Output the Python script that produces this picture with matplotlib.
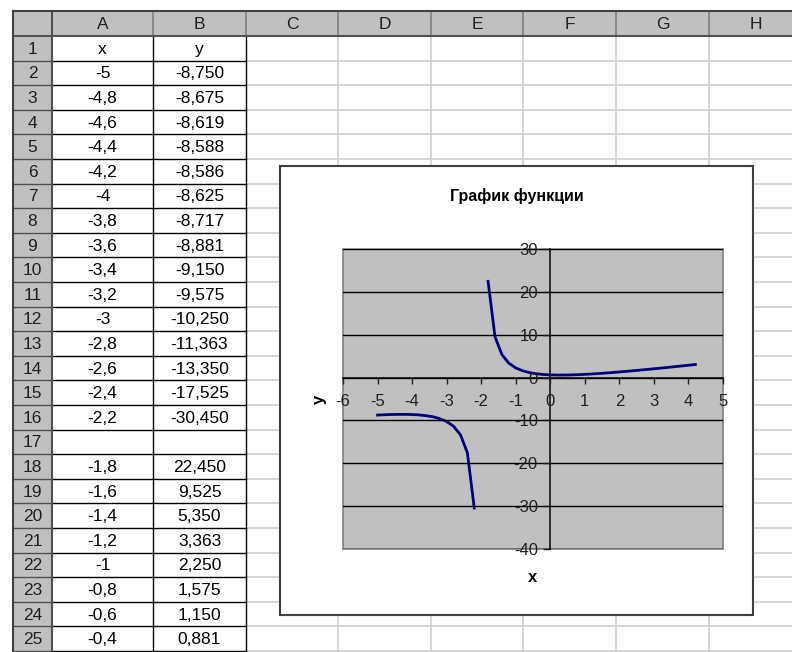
import matplotlib
matplotlib.use('Agg')
import matplotlib.pyplot as plt
from matplotlib.patches import Rectangle

plt.rcParams['font.family'] = ['Liberation Sans', 'DejaVu Sans']
plt.rcParams['axes.unicode_minus'] = False

# table / chart data
x_left = [-5, -4.8, -4.6, -4.4, -4.2, -4, -3.8, -3.6, -3.4, -3.2, -3, -2.8, -2.6, -2.4, -2.2]
y_left = [-8.750, -8.675, -8.619, -8.588, -8.586, -8.625, -8.717, -8.881, -9.150, -9.575,
          -10.250, -11.363, -13.350, -17.525, -30.450]
x_right = [-1.8, -1.6, -1.4, -1.2, -1, -0.8, -0.6, -0.4, -0.2, 0, 0.2, 0.4, 0.6, 0.8, 1,
           1.2, 1.4, 1.6, 1.8, 2, 2.2, 2.4, 2.6, 2.8, 3, 3.2, 3.4, 3.6, 3.8, 4, 4.2]
y_right = [22.450, 9.525, 5.350, 3.363, 2.250, 1.575, 1.150, 0.881, 0.717, 0.625, 0.586,
           0.588, 0.619, 0.675, 0.750, 0.841, 0.944, 1.058, 1.182, 1.313, 1.450, 1.593,
           1.741, 1.894, 2.050, 2.210, 2.372, 2.538, 2.705, 2.875, 3.047]
col_names = ['A', 'B', 'C', 'D', 'E', 'F', 'G', 'H']
x_ticks = list(range(-6, 6))
y_ticks = list(range(-40, 31, 10))
title = 'График функции'

# rows shown in the sheet: header, left branch, blank row, start of right branch
rows = [('x', 'y')]
for xv, yv in zip(x_left, y_left):
    rows.append((f'{xv:g}'.replace('.', ','), f'{yv:.3f}'.replace('.', ',')))
rows.append(('', ''))
for xv, yv in list(zip(x_right, y_right))[:8]:
    rows.append((f'{xv:g}'.replace('.', ','), f'{yv:.3f}'.replace('.', ',')))

W, H = 792, 652
fig = plt.figure(figsize=(W / 100, H / 100), dpi=100)
sheet = fig.add_axes([0, 0, 1, 1])
sheet.set_xlim(0, W)
sheet.set_ylim(H, 0)
sheet.axis('off')

# sheet geometry (pixels)
left, top, head_bot, rh_right = 13, 10.5, 36, 52
col_edges = [52, 153, 246, 338, 431, 523, 616, 709, 802]
row_h = 24.6
row_edges = [head_bot + i * row_h for i in range(26)]
grey_hdr = '#c0c0c0'
fs = 12.5

# header backgrounds
sheet.add_patch(Rectangle((left, top), W - left, head_bot - top, color=grey_hdr, lw=0))
sheet.add_patch(Rectangle((left, head_bot), rh_right - left, H - head_bot, color=grey_hdr, lw=0))

# light gridlines of empty cells
for xe in col_edges[3:]:
    sheet.plot([xe, xe], [head_bot, H], color='#cfcfcf', lw=1.2)
for ye in row_edges[1:]:
    sheet.plot([col_edges[2], W], [ye, ye], color='#cfcfcf', lw=1.2)

# bordered table in A:B
for xe in col_edges[1:3]:
    sheet.plot([xe, xe], [head_bot, H], color='black', lw=1)
for ye in row_edges[1:]:
    sheet.plot([rh_right, col_edges[2]], [ye, ye], color='black', lw=1)

# header separators
for xe in col_edges[1:]:
    sheet.plot([xe, xe], [top, head_bot], color='#808080', lw=1.2)
for ye in row_edges[1:]:
    sheet.plot([left, rh_right], [ye, ye], color='#505050', lw=1)
sheet.plot([left, W], [head_bot, head_bot], color='#505050', lw=1.5)
sheet.plot([rh_right, rh_right], [top, H], color='#505050', lw=1.5)
sheet.plot([left, W], [top, top], color='#404040', lw=1.5)
sheet.plot([left, left], [top, H], color='#404040', lw=1.5)

# header texts
for i, name in enumerate(col_names):
    sheet.text((col_edges[i] + col_edges[i + 1]) / 2, (top + head_bot) / 2 + 1, name,
               ha='center', va='center', fontsize=fs, color='#202020')
for i in range(25):
    yc = (row_edges[i] + row_edges[i + 1]) / 2 + 1
    sheet.text((left + rh_right) / 2, yc, str(i + 1), ha='center', va='center',
               fontsize=fs, color='#202020')
    xs, ys = rows[i]
    sheet.text((col_edges[0] + col_edges[1]) / 2, yc, xs, ha='center', va='center',
               fontsize=fs)
    sheet.text((col_edges[1] + col_edges[2]) / 2, yc, ys, ha='center', va='center',
               fontsize=fs)

# chart area
sheet.add_patch(Rectangle((280, 166), 473, 449, facecolor='white', edgecolor='#404040',
                          lw=1.5, zorder=5))
sheet.text(517, 196, title, ha='center', va='center', fontsize=11.5,
           fontweight='bold', zorder=6)

# plot area
px0, py0, pw, ph = 343, 249, 380, 300
ax = fig.add_axes([px0 / W, 1 - (py0 + ph) / H, pw / W, ph / H])
ax.set_facecolor(grey_hdr)
ax.set_xlim(-6, 5)
ax.set_ylim(-40, 30)
ax.plot(x_left, y_left, color='#000080', lw=2)
ax.plot(x_right, y_right, color='#000080', lw=2)

ax.spines['top'].set_visible(False)
ax.spines['right'].set_visible(False)
ax.spines['left'].set_position(('data', 0))
ax.spines['bottom'].set_position(('data', 0))
for s in ['left', 'bottom']:
    ax.spines[s].set_color('#202020')
    ax.spines[s].set_linewidth(1.3)
ax.add_patch(Rectangle((0, 0), 1, 1, transform=ax.transAxes, fill=False,
                       edgecolor='#808080', lw=1.2, clip_on=False, zorder=0.5))

ax.set_xticks(x_ticks)
ax.set_yticks(y_ticks)
ax.yaxis.grid(True, color='black', lw=1)
ax.set_axisbelow(False)
ax.tick_params(axis='x', direction='out', length=4, width=1, pad=8, labelsize=12,
               colors='#202020')
ax.tick_params(axis='y', direction='out', length=5, width=1, pad=4, labelsize=12,
               colors='#202020')

ax.text((319 - px0) / pw, 0.5, 'y', rotation=90, ha='center', va='center',
        transform=ax.transAxes, fontsize=12, fontweight='bold')
ax.text(0.5, -(578 - py0 - ph) / ph, 'x', ha='center', va='center',
        transform=ax.transAxes, fontsize=12, fontweight='bold')

fig.savefig('out.png', dpi=100)
